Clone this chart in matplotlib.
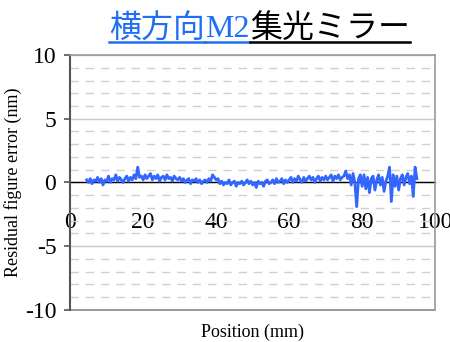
import numpy as np
import matplotlib
matplotlib.use("Agg")
import matplotlib.pyplot as plt
from matplotlib.ticker import MultipleLocator
from matplotlib.lines import Line2D

plt.rcParams["axes.unicode_minus"] = False

# position (mm), 0.5 mm step
x_start = 4.5
x_step = 0.5
error_nm = [
    # 4.5 - 9.5
    0.2, 0.0, 0.3, -0.1, 0.2, 0.1, 0.4, 0.0, 0.3, -0.2, 0.2,
    # 10 - 19.5
    0.1, 0.5, 0.0, 0.3, 0.2, 0.6, 0.1, 0.4, 0.2, 0.0,
    0.3, 0.5, 0.1, 0.4, 0.2, 0.6, 0.3, 1.2, 0.4, 0.5,
    # 20 - 29.5
    0.2, 0.6, 0.3, 0.5, 0.7, 0.2, 0.5, 0.3, 0.6, 0.1,
    0.4, 0.5, 0.2, 0.6, 0.3, 0.4, 0.1, 0.5, 0.3, 0.2,
    # 30 - 39.5
    0.4, 0.1, 0.3, 0.0, 0.2, 0.3, -0.1, 0.2, 0.1, 0.3,
    0.0, 0.2, -0.1, 0.1, 0.2, 0.0, 0.3, 0.1, 0.6, 0.4,
    # 40 - 49.5
    0.2, 0.3, -0.1, 0.1, -0.2, 0.0, -0.1, 0.2, -0.2, 0.0,
    0.1, -0.3, 0.0, -0.1, 0.1, -0.2, 0.0, 0.2, -0.1, 0.1,
    # 50 - 59.5
    -0.2, 0.0, -0.4, 0.1, -0.1, 0.0, -0.3, 0.1, 0.2, -0.1,
    0.0, 0.2, -0.1, 0.3, 0.0, 0.1, 0.3, -0.1, 0.2, 0.0,
    # 60 - 69.5
    0.2, 0.4, 0.0, 0.3, 0.1, 0.5, 0.2, 0.0, 0.4, 0.1,
    0.3, 0.5, 0.2, 0.4, 0.0, 0.3, 0.5, 0.1, 0.4, 0.2,
    # 70 - 79.5
    0.5, 0.2, 0.4, 0.6, 0.1, 0.5, 0.3, 0.6, 0.2, 0.4,
    0.5, 0.9, 0.3, 0.6, -0.2, 0.7, 0.0, -1.9, 0.3, 0.6,
    # 80 - 89.5
    -0.3, 0.6, -0.5, 0.4, -0.8, 0.3, 0.5, -0.6, 0.2, 0.6,
    -0.2, 0.4, -0.7, 0.1, 0.5, 1.2, -1.5, 0.6, -0.3, 0.5,
    # 90 - 95
    -0.6, 0.3, 0.6, -0.2, 0.4, 0.7, -0.1, 0.5, -1.1, 1.2, 0.3,
]
position_mm = x_start + x_step * np.arange(len(error_nm))

x_ticks = [0, 20, 40, 60, 80, 100]
y_ticks = [-10, -5, 0, 5, 10]

title_parts = [("横方向", "#1f6ef5", "cjk"), ("M2", "#1f6ef5", "serif"),
               ("集光ミラー", "black", "cjk")]

serif = ["Liberation Serif", "DejaVu Serif"]
cjk = ["Noto Sans CJK JP", "DejaVu Sans"]

fig = plt.figure(figsize=(4.5, 3.42), dpi=100)
ax = fig.add_axes([0.156, 0.094, 0.811, 0.745])

ax.plot(position_mm, error_nm, color="#3366ff", lw=2.0, zorder=3)

ax.set_xlim(0, 100)
ax.set_ylim(-10, 10)
ax.set_xticks(x_ticks)
ax.set_yticks(y_ticks)
ax.yaxis.set_minor_locator(MultipleLocator(1))

ax.grid(axis="y", which="major", color="#c8c8c8", lw=1.0)
ax.grid(axis="y", which="minor", color="#d0d0d0", lw=1.0, ls=(0, (6, 5)))
ax.set_axisbelow(True)

# horizontal axis crosses at zero
ax.spines["bottom"].set_position(("data", 0))
ax.spines["bottom"].set_color("black")
ax.spines["bottom"].set_linewidth(1.0)
ax.spines["bottom"].set_zorder(2)
ax.add_line(Line2D([0, 1], [0, 0], transform=ax.transAxes, color="#888888",
                   lw=1.2, clip_on=False))
ax.spines["left"].set_color("#555555")
ax.spines["left"].set_linewidth(1.5)
for s in ["top", "right"]:
    ax.spines[s].set_color("#999999")
    ax.spines[s].set_linewidth(1.2)

ax.tick_params(axis="x", which="both", length=0, pad=21)
ax.tick_params(axis="y", which="major", length=4, width=1.2, color="#555555",
               direction="out", pad=6)
ax.tick_params(axis="y", which="minor", length=0)
for lab in ax.get_xticklabels() + ax.get_yticklabels():
    lab.set_family(serif)
    lab.set_fontsize(17)

ax.set_ylabel("Residual figure error (nm)", family=serif, fontsize=13, labelpad=2)
ax.set_xlabel("Position (mm)", family=serif, fontsize=13)
ax.xaxis.set_label_coords(0.5, -0.055)

# title made of pieces, underlined
title_x = 0.243
title_y = 0.892
texts = []
for s, c, kind in title_parts:
    fam = cjk if kind == "cjk" else serif
    t = fig.text(title_x, title_y, s, color=c, family=fam, fontsize=23,
                 va="baseline", ha="left")
    texts.append(t)

fig.canvas.draw()
r = fig.canvas.get_renderer()
inv = fig.transFigure.inverted()
xpos = title_x
for t in texts:
    t.set_x(xpos)
    bb = t.get_window_extent(r)
    xpos += inv.transform((bb.width, 0))[0] - inv.transform((0, 0))[0]
fig.canvas.draw()
x0 = title_x
for t in texts:
    bb = t.get_window_extent(r)
    x1 = inv.transform((bb.x1, 0))[0]
    fig.add_artist(Line2D([x0, x1], [0.876, 0.876], color=t.get_color(), lw=1.8))
    x0 = x1

fig.savefig("out.png", dpi=100)
